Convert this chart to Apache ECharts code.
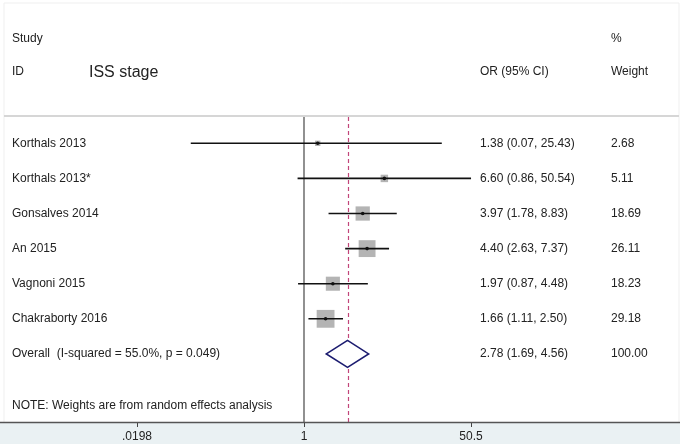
<!DOCTYPE html>
<html><head><meta charset="utf-8">
<script src="https://cdn.jsdelivr.net/npm/echarts@6/dist/echarts.min.js"></script>
<style>html,body{margin:0;padding:0;background:#fff}#c{width:683px;height:447px}</style>
</head><body><div id="c"></div>
<script>
const studies = ['Korthals 2013','Korthals 2013*','Gonsalves 2014','An 2015','Vagnoni 2015','Chakraborty 2016'];
const orVals = [1.38, 6.60, 3.97, 4.40, 1.97, 1.66];
const ciLow  = [0.07, 0.86, 1.78, 2.63, 0.87, 1.11];
const ciHigh = [25.43, 50.54, 8.83, 7.37, 4.48, 2.50];
const weights = [2.68, 5.11, 18.69, 26.11, 18.23, 29.18];
const orText = ['1.38 (0.07, 25.43)','6.60 (0.86, 50.54)','3.97 (1.78, 8.83)','4.40 (2.63, 7.37)','1.97 (0.87, 4.48)','1.66 (1.11, 2.50)'];
const weightText = ['2.68','5.11','18.69','26.11','18.23','29.18'];
const overallLabel = 'Overall  (I-squared = 55.0%, p = 0.049)';
const overall = {or: 2.78, lo: 1.69, hi: 4.56, text: '2.78 (1.69, 4.56)', weight: '100.00'};
const tickValues = [0.0198, 1, 50.5];
const tickLabels = ['.0198', '1', '50.5'];
const noteText = 'NOTE: Weights are from random effects analysis';

const FONT = '"Liberation Sans", Arial, sans-serif';
const TXT = '#222';
const rows = studies.map((s, i) => [orVals[i], ciLow[i], ciHigh[i], weights[i], i + 1, i]);
const overallRow = studies.length + 1;

const chart = echarts.init(document.getElementById('c'), null, {renderer: 'canvas'});
const option = {
  animation: false,
  backgroundColor: '#fff',
  grid: {left: 137, right: 212, top: 117, bottom: 25, containLabel: false},
  xAxis: {
    type: 'log', logBase: 50.5,
    min: 1 / 50.5, max: 50.5, interval: 1,
    axisLine: {show: false},
    axisTick: {show: true, length: 5, lineStyle: {color: '#444', width: 1}},
    splitLine: {show: false},
    axisLabel: {
      margin: 9, color: TXT, fontFamily: FONT, fontSize: 12,
      formatter: function (v) {
        let best = 0, bd = Infinity;
        tickValues.forEach((t, i) => { const d = Math.abs(Math.log(t) - Math.log(v)); if (d < bd) { bd = d; best = i; } });
        return tickLabels[best];
      }
    }
  },
  yAxis: {type: 'value', inverse: true, min: 0.25, max: 8.94, show: false},
  graphic: [
    {type: 'rect', shape: {x: 0, y: 423, width: 680, height: 21}, style: {fill: '#eaf1f3'}, z: 0, silent: true},
    {type: 'line', shape: {x1: 4, y1: 3, x2: 679, y2: 3}, style: {stroke: '#efefef', lineWidth: 1}},
    {type: 'line', shape: {x1: 4, y1: 3, x2: 4, y2: 422}, style: {stroke: '#efefef', lineWidth: 1}},
    {type: 'line', shape: {x1: 679, y1: 3, x2: 679, y2: 422}, style: {stroke: '#efefef', lineWidth: 1}},
    {type: 'line', shape: {x1: 4, y1: 116, x2: 679, y2: 116}, style: {stroke: '#d6d6d6', lineWidth: 2}},
    {type: 'line', shape: {x1: 0, y1: 422.5, x2: 680, y2: 422.5}, style: {stroke: '#555', lineWidth: 1.5}, z: 10},
    {type: 'text', left: 12, top: 33, style: {text: 'Study', font: '12px ' + FONT, fill: TXT}},
    {type: 'text', left: 611, top: 33, style: {text: '%', font: '12px ' + FONT, fill: TXT}},
    {type: 'text', left: 12, top: 66, style: {text: 'ID', font: '12px ' + FONT, fill: TXT}},
    {type: 'text', left: 89, top: 65, style: {text: 'ISS stage', font: '16px ' + FONT, fill: TXT}},
    {type: 'text', left: 480, top: 66, style: {text: 'OR (95% CI)', font: '12px ' + FONT, fill: TXT}},
    {type: 'text', left: 611, top: 66, style: {text: 'Weight', font: '12px ' + FONT, fill: TXT}}
  ],
  series: [
    {
      type: 'custom', name: 'ref', silent: true, z: 1,
      data: [[1, 2.78]],
      renderItem: function (params, api) {
        const cs = params.coordSys;
        const p1 = api.coord([1, 0.25]);
        const pm = api.coord([overall.or, 0.25]);
        return {type: 'group', children: [
          {type: 'line', shape: {x1: p1[0], y1: cs.y, x2: p1[0], y2: cs.y + cs.height}, style: {stroke: '#555', lineWidth: 1.3}},
          {type: 'line', shape: {x1: Math.round(pm[0]) + 0.5, y1: cs.y, x2: Math.round(pm[0]) + 0.5, y2: cs.y + cs.height}, style: {stroke: '#c2457a', lineWidth: 1.2, lineDash: [4, 3]}}
        ]};
      }
    },
    {
      type: 'custom', name: 'studies', z: 2,
      encode: {x: 0, y: 4},
      data: rows,
      renderItem: function (params, api) {
        const or = api.value(0), lo = api.value(1), hi = api.value(2), w = api.value(3), r = api.value(4), idx = api.value(5);
        const pc = api.coord([or, r]);
        const pl = api.coord([lo, r]);
        const ph = api.coord([hi, r]);
        const s = Math.sqrt(w) * 3.3;
        return {type: 'group', children: [
          {type: 'rect', shape: {x: pc[0] - s / 2, y: pc[1] - s / 2, width: s, height: s}, style: {fill: '#b4b4b4'}},
          {type: 'line', shape: {x1: pl[0], y1: pc[1], x2: ph[0], y2: pc[1]}, style: {stroke: '#111', lineWidth: 1.6}},
          {type: 'circle', shape: {cx: pc[0], cy: pc[1], r: 1.8}, style: {fill: '#111'}},
          {type: 'text', x: 12, y: pc[1], style: {text: studies[idx], font: '12px ' + FONT, fill: TXT, verticalAlign: 'middle'}},
          {type: 'text', x: 480, y: pc[1], style: {text: orText[idx], font: '12px ' + FONT, fill: TXT, verticalAlign: 'middle'}},
          {type: 'text', x: 611, y: pc[1], style: {text: weightText[idx], font: '12px ' + FONT, fill: TXT, verticalAlign: 'middle'}}
        ]};
      }
    },
    {
      type: 'custom', name: 'overall', z: 3,
      encode: {x: 0, y: 3},
      data: [[overall.or, overall.lo, overall.hi, overallRow]],
      renderItem: function (params, api) {
        const r = api.value(3);
        const pc = api.coord([api.value(0), r]);
        const pl = api.coord([api.value(1), r]);
        const ph = api.coord([api.value(2), r]);
        const h = 13.5;
        return {type: 'group', children: [
          {type: 'polygon', shape: {points: [[pl[0], pc[1]], [pc[0], pc[1] - h], [ph[0], pc[1]], [pc[0], pc[1] + h]]}, style: {fill: '#fff', stroke: '#1c1c70', lineWidth: 1.6}},
          {type: 'text', x: 12, y: pc[1], style: {text: overallLabel, font: '12px ' + FONT, fill: TXT, verticalAlign: 'middle'}},
          {type: 'text', x: 480, y: pc[1], style: {text: overall.text, font: '12px ' + FONT, fill: TXT, verticalAlign: 'middle'}},
          {type: 'text', x: 611, y: pc[1], style: {text: overall.weight, font: '12px ' + FONT, fill: TXT, verticalAlign: 'middle'}},
          {type: 'text', x: 12, y: api.coord([1, 8.48])[1], style: {text: noteText, font: '12px ' + FONT, fill: TXT, verticalAlign: 'middle'}}
        ]};
      }
    }
  ]
};
chart.setOption(option);
</script></body></html>
